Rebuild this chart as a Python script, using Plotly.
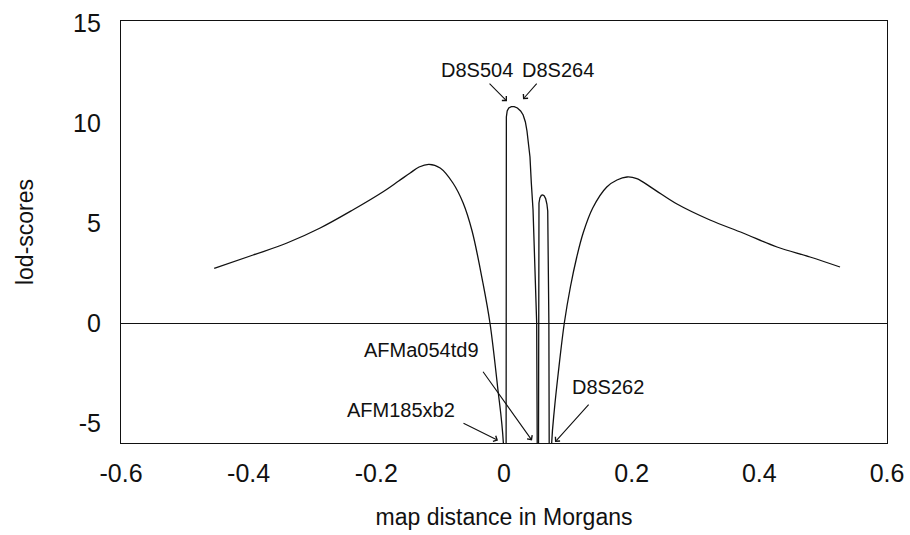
import plotly.graph_objects as go

# ---- data (map distance in Morgans, lod-scores) ----
left_x = [-0.454, -0.393, -0.340, -0.288, -0.237, -0.190, -0.165, -0.147, -0.133, -0.1175,
          -0.100, -0.080, -0.064, -0.050, -0.033, -0.022, -0.010, -0.001, 0.003]
left_y = [2.73, 3.4, 4.0, 4.75, 5.65, 6.55, 7.1, 7.5, 7.8, 7.93,
          7.75, 7.0, 6.0, 4.6, 2.0, 0.0, -3.2, -6.0, -15]

spike1_x = [0.0031, 0.0032, 0.0034, 0.0037, 0.0050, 0.0075, 0.0115, 0.016, 0.021,
            0.026, 0.030, 0.0335, 0.036, 0.0385, 0.0407, 0.0428, 0.0455, 0.0512, 0.0528, 0.0533]
spike1_y = [-15, 0, 6, 10.3, 10.6, 10.75, 10.82, 10.82, 10.75,
            10.6, 10.4, 10.05, 9.6, 9.0, 8.3, 7.0, 5.65, 0, -6.0, -15]

spike2_x = [0.0535, 0.0537, 0.054, 0.0548, 0.0562, 0.0585, 0.0606, 0.0628, 0.0652, 0.0672,
            0.0685, 0.0695, 0.0703, 0.0708, 0.0711]
spike2_y = [-15, 0, 5.65, 6.0, 6.25, 6.38, 6.4, 6.36, 6.22, 5.95, 5.6, 3, 0, -6, -15]

right_x = [0.0712, 0.0747, 0.079, 0.085, 0.0945, 0.104, 0.114, 0.124, 0.139, 0.161,
           0.177, 0.1927, 0.208, 0.2334, 0.271, 0.3227, 0.3744, 0.4277, 0.4794, 0.5264]
right_y = [-15, -6.0, -4.3, -2.5, 0, 1.8, 3.3, 4.5, 5.75, 6.8,
           7.15, 7.3, 7.22, 6.72, 5.95, 5.15, 4.5, 3.8, 3.3, 2.8]

x_ticks = [-0.6, -0.4, -0.2, 0, 0.2, 0.4, 0.6]
x_ticktext = ["-0.6", "-0.4", "-0.2", "0", "0.2", "0.4", "0.6"]
y_ticks = [-5, 0, 5, 10, 15]
y_ticktext = ["-5", "0", "5", "10", "15"]

# marker labels: name, text position, arrow tail, arrow head
marker_names = ["D8S504", "D8S264", "AFMa054td9", "AFM185xb2", "D8S262"]
label_x = [-0.0423, 0.0846, -0.130, -0.161, 0.163]
label_y = [12.64, 12.64, -1.35, -4.37, -3.21]
tail_x = [-0.025, 0.0533, -0.0345, -0.0658, 0.1347]
tail_y = [12.04, 12.04, -2.36, -4.97, -4.01]
head_x = [0.0047, 0.0298, 0.0439, -0.0094, 0.0799]
head_y = [11.09, 11.19, -5.87, -5.87, -5.95]

FONT = "Liberation Sans, Arial, Helvetica, sans-serif"
LINE = dict(color="#111111", width=1.3)

fig = go.Figure()
fig.add_trace(go.Scatter(x=left_x, y=left_y, mode="lines",
                         line=dict(**LINE, shape="spline", smoothing=1.0),
                         hoverinfo="skip", showlegend=False))
fig.add_trace(go.Scatter(x=spike1_x, y=spike1_y, mode="lines", line=LINE,
                         hoverinfo="skip", showlegend=False))
fig.add_trace(go.Scatter(x=spike2_x, y=spike2_y, mode="lines", line=LINE,
                         hoverinfo="skip", showlegend=False))
fig.add_trace(go.Scatter(x=right_x, y=right_y, mode="lines",
                         line=dict(**LINE, shape="spline", smoothing=1.0),
                         hoverinfo="skip", showlegend=False))

for name, lx, ly in zip(marker_names, label_x, label_y):
    fig.add_annotation(x=lx, y=ly, xref="x", yref="y", text=name, showarrow=False,
                       font=dict(family=FONT, size=20, color="#111111"))
for tx, ty, hx, hy in zip(tail_x, tail_y, head_x, head_y):
    fig.add_annotation(x=hx, y=hy, ax=tx, ay=ty, xref="x", yref="y",
                       axref="x", ayref="y", text="", showarrow=True,
                       arrowhead=4, arrowsize=1.1, arrowwidth=1.1,
                       arrowcolor="#111111", standoff=0, startstandoff=0)

fig.update_layout(
    width=910, height=535,
    margin=dict(l=121, r=23, t=21, b=92),
    paper_bgcolor="white", plot_bgcolor="white",
    font=dict(family=FONT, color="#111111"),
    xaxis=dict(range=[-0.6, 0.6], tickvals=x_ticks, ticktext=x_ticktext,
               showgrid=False, zeroline=False, ticks="", automargin=False,
               showline=True, mirror=True, linecolor="#111111", linewidth=1.2,
               tickfont=dict(size=25), ticklabelstandoff=8,
               title=dict(text="map distance in Morgans", font=dict(size=23), standoff=22)),
    yaxis=dict(range=[-6.0, 15.1], tickvals=y_ticks, ticktext=y_ticktext,
               showgrid=False, zeroline=True, zerolinecolor="#111111", zerolinewidth=1.2,
               ticks="", automargin=False,
               showline=True, mirror=True, linecolor="#111111", linewidth=1.2,
               tickfont=dict(size=25), ticklabelstandoff=14,
               title=dict(text="lod-scores", font=dict(size=23), standoff=33)),
)

fig.write_html("out.html", config={"displayModeBar": False},
               post_script="document.body.style.margin='0px';document.body.style.overflow='hidden';")
